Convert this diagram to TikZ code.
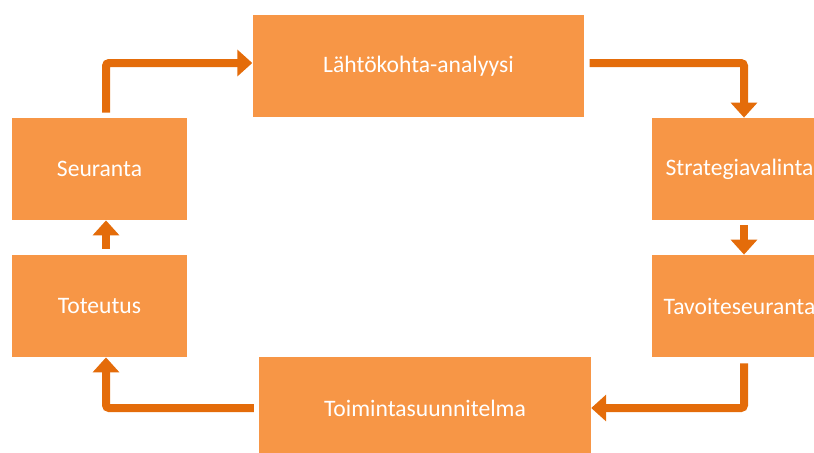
\documentclass[tikz,border=0pt]{standalone}
\usepackage{fontspec}
\setmainfont{Carlito}
\usetikzlibrary{arrows.meta}
\definecolor{boxorange}{HTML}{F79646}
\definecolor{arroworange}{HTML}{E46C0A}
\tikzset{
  stagebox/.style={rectangle, fill=boxorange, text=white, minimum height=51pt, inner sep=0pt, font=\fontsize{11.8}{14}\selectfont},
  smallstage/.style={stagebox, minimum width=87.5pt},
  widestage/.style={stagebox, minimum width=165.8pt},
  flow/.style={draw=arroworange, line width=4pt, rounded corners=1.5pt, -{Triangle[width=13pt,length=7.5pt]}}
}
\begin{document}
\begin{tikzpicture}[x=0.5pt, y=-0.5pt]
  \useasboundingbox (0,0) rectangle (814,452);
  \clip (0,0) rectangle (814,452);
  % stages of the cycle
  \node[widestage]  (lahto) at (418.5,66)  {Lähtökohta-analyysi};
  \node[smallstage] (strat) at (739.5,169) {Strategiavalinta};
  \node[smallstage] (tav)   at (739.5,306) {Tavoiteseuranta};
  \node[widestage]  (toim)  at (425,408)   {Toimintasuunnitelma};
  \node[smallstage] (tot)   at (99.5,306)  {Toteutus};
  \node[smallstage] (seur)  at (99.5,169)  {Seuranta};
  % connectors
  \draw[flow] ([xshift=3.25pt,yshift=2.5pt]seur.north) |- ([yshift=1.5pt]lahto.west);
  \draw[flow] ([xshift=2.5pt,yshift=1.5pt]lahto.east) -| ([xshift=2.25pt]strat.north);
  \draw[flow] ([xshift=2.25pt,yshift=-2.5pt]strat.south) -- ([xshift=2.25pt]tav.north);
  \draw[flow] ([xshift=2.25pt,yshift=-3pt]tav.south) |- (toim.east);
  \draw[flow] ([xshift=-2.5pt]toim.west) -| ([xshift=3.25pt]tot.south);
  \draw[flow] ([xshift=3.25pt,yshift=3pt]tot.north) -- ([xshift=3.25pt]seur.south);
\end{tikzpicture}
\end{document}
